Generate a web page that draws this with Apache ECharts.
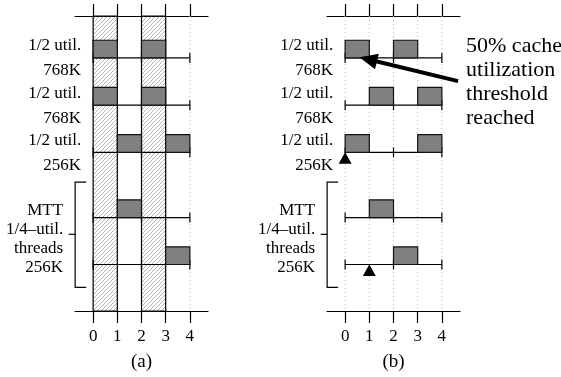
<!DOCTYPE html>
<html><head><meta charset="utf-8">
<script src="https://cdn.jsdelivr.net/npm/echarts@6/dist/echarts.min.js"></script>
<style>html,body{margin:0;padding:0;background:#fff}#c{width:561px;height:377px}</style>
</head><body><div id="c"></div>
<script>
// ---- data ----
const xTicks = [0, 1, 2, 3, 4];
const lineTicks = [0, 2, 4];
const rowY = [0.889, 1.889, 2.889, 4.27, 5.265];
const rowLabels = ['1/2 util.\n768K', '1/2 util.\n768K', '1/2 util.\n256K'];
const groupLabel = 'MTT\n1/4\u2013util.\nthreads\n256K';
const groupSpan = [3.52, 4.625, 5.75];
const hatchA = [[0, 1], [2, 3]];
const busyA = [[0,0,1],[0,2,3],[1,0,1],[1,2,3],[2,1,2],[2,3,4],[3,1,2],[4,3,4]];
const busyB = [[0,0,1],[0,2,3],[1,1,2],[1,3,4],[2,0,1],[2,3,4],[3,1,2],[4,2,3]];
const markersB = [[2,0],[4,1]];
const noteText = '50% cache\nutilization\nthreshold\nreached';
const arrowTail = [4.67, 1.38];
const arrowTip = [0.59, 0.875];
const notePos = [5.0, 1.396];
const panelNames = ['(a)', '(b)'];
const yMax = 6.25, barH = 0.375;

const FONT = '"Liberation Serif", "Times New Roman", serif';

function hatchPattern() {
  const c = document.createElement('canvas'); c.width = 4; c.height = 4;
  const g = c.getContext('2d'); g.strokeStyle = '#8c8c8c'; g.lineWidth = 0.65;
  g.beginPath();
  g.moveTo(0, 4); g.lineTo(4, 0);
  g.moveTo(-1, 1); g.lineTo(1, -1);
  g.moveTo(3, 5); g.lineTo(5, 3);
  g.stroke();
  return c;
}
const hatchFill = { image: hatchPattern(), repeat: 'repeat' };

function xAxes(gi, name) {
  return [
    { gridIndex: gi, type: 'value', min: -0.75, max: 4.75, position: 'bottom',
      name: name, nameLocation: 'middle', nameGap: 42, nameMoveOverlap: false,
      nameTextStyle: { fontFamily: FONT, fontSize: 19, color: '#000' },
      axisLine: { show: true, onZero: false, lineStyle: { color: '#000', width: 1.2 } },
      axisTick: { show: true, customValues: xTicks, length: 12, lineStyle: { color: '#000', width: 1.2 } },
      axisLabel: { show: true, customValues: xTicks, margin: 17, fontFamily: FONT, fontSize: 17, color: '#000' },
      splitLine: { show: false } },
    { gridIndex: gi, type: 'value', min: -0.75, max: 4.75, position: 'top',
      axisLine: { show: true, onZero: false, lineStyle: { color: '#000', width: 1.2 } },
      axisTick: { show: true, customValues: xTicks, length: 12, lineStyle: { color: '#000', width: 1.2 } },
      axisLabel: { show: false },
      splitLine: { show: false } }
  ];
}

function yAxis(gi) {
  return { gridIndex: gi, type: 'value', min: 0, max: yMax, inverse: true, show: false };
}

function base(gi) {
  return { type: 'custom', coordinateSystem: 'cartesian2d', xAxisIndex: gi * 2, yAxisIndex: gi, clip: false, silent: true };
}

function gridSeries(gi) {
  return Object.assign(base(gi), {
    z: 1, data: xTicks.map(v => [v]),
    renderItem: (p, api) => {
      const x = api.value(0);
      const a = api.coord([x, 0]), b = api.coord([x, yMax]);
      return { type: 'line', shape: { x1: a[0], y1: a[1], x2: b[0], y2: b[1] },
        style: { stroke: '#bbb', lineWidth: 1, lineDash: [1, 3] } };
    }
  });
}

function hatchSeries(gi, data) {
  return Object.assign(base(gi), {
    z: 2, data: data,
    renderItem: (p, api) => {
      const a = api.coord([api.value(0), 0]), b = api.coord([api.value(1), yMax]);
      return { type: 'rect', shape: { x: a[0], y: a[1], width: b[0] - a[0], height: b[1] - a[1] },
        style: { fill: hatchFill, stroke: '#000', lineWidth: 1.2 } };
    }
  });
}

function timelineSeries(gi) {
  return Object.assign(base(gi), {
    z: 3, data: rowY.map((y, i) => [i]),
    renderItem: (p, api) => {
      const y = rowY[api.value(0)];
      const a = api.coord([0, y]), b = api.coord([4, y]);
      const ch = [{ type: 'line', shape: { x1: a[0], y1: a[1], x2: b[0], y2: b[1] }, style: { stroke: '#000', lineWidth: 1.2 } }];
      lineTicks.forEach(t => {
        const c = api.coord([t, y]);
        ch.push({ type: 'line', shape: { x1: c[0], y1: c[1] - 5, x2: c[0], y2: c[1] + 5 }, style: { stroke: '#000', lineWidth: 1.2 } });
      });
      return { type: 'group', children: ch };
    }
  });
}

function busySeries(gi, data) {
  return Object.assign(base(gi), {
    z: 4, data: data,
    renderItem: (p, api) => {
      const y = rowY[api.value(0)];
      const a = api.coord([api.value(1), y - barH]), b = api.coord([api.value(2), y]);
      return { type: 'rect', shape: { x: a[0], y: a[1], width: b[0] - a[0], height: b[1] - a[1] },
        style: { fill: '#808080', stroke: '#111', lineWidth: 1.2 } };
    }
  });
}

function labelSeries(gi) {
  return Object.assign(base(gi), {
    z: 5, data: rowLabels.map((t, i) => [i]),
    renderItem: (p, api) => {
      const i = api.value(0);
      const c = api.coord([0, rowY[i]]);
      return { type: 'text', style: { text: rowLabels[i], x: c[0] - 12, y: c[1] + 0.5, align: 'right', verticalAlign: 'middle',
        fontFamily: FONT, fontSize: 17, lineHeight: 25, fill: '#000' } };
    }
  });
}

function groupSeries(gi) {
  return Object.assign(base(gi), {
    z: 5, data: [[0]],
    renderItem: (p, api) => {
      const t = api.coord([0, groupSpan[0]]), m = api.coord([0, groupSpan[1]]), b = api.coord([0, groupSpan[2]]);
      const bx = t[0] - 18;
      const st = { stroke: '#000', lineWidth: 1.2 };
      return { type: 'group', children: [
        { type: 'polyline', shape: { points: [[bx + 11, t[1]], [bx, t[1]], [bx, b[1]], [bx + 11, b[1]]] }, style: Object.assign({ fill: null }, st) },
        { type: 'line', shape: { x1: bx - 6.5, y1: m[1], x2: bx, y2: m[1] }, style: st },
        { type: 'text', style: { text: groupLabel, x: t[0] - 30, y: m[1] + 5, align: 'right', verticalAlign: 'middle',
          fontFamily: FONT, fontSize: 17, lineHeight: 19, fill: '#000' } }
      ] };
    }
  });
}

function markerSeries(gi, data) {
  return Object.assign(base(gi), {
    z: 6, data: data,
    renderItem: (p, api) => {
      const c = api.coord([api.value(1), rowY[api.value(0)]]);
      return { type: 'polygon', shape: { points: [[c[0], c[1]], [c[0] - 6.5, c[1] + 11.5], [c[0] + 6.5, c[1] + 11.5]] },
        style: { fill: '#000' } };
    }
  });
}

function noteSeries(gi) {
  return Object.assign(base(gi), {
    z: 7, data: [[0]],
    renderItem: (p, api) => {
      const a = api.coord(arrowTail), b = api.coord(arrowTip), n = api.coord(notePos);
      const dx = b[0] - a[0], dy = b[1] - a[1], L = Math.hypot(dx, dy);
      const ux = dx / L, uy = dy / L, hl = 18, hw = 8;
      const bxp = b[0] - ux * hl, byp = b[1] - uy * hl;
      return { type: 'group', children: [
        { type: 'line', shape: { x1: a[0], y1: a[1], x2: bxp + ux * 2, y2: byp + uy * 2 }, style: { stroke: '#000', lineWidth: 4 } },
        { type: 'polygon', shape: { points: [[b[0], b[1]], [bxp - uy * hw, byp + ux * hw], [bxp + uy * hw, byp - ux * hw]] }, style: { fill: '#000' } },
        { type: 'text', style: { text: noteText, x: n[0], y: n[1], align: 'left', verticalAlign: 'middle',
          fontFamily: FONT, fontSize: 22, lineHeight: 24, fill: '#000' } }
      ] };
    }
  });
}

const option = {
  animation: false,
  backgroundColor: '#fff',
  grid: [
    { left: 75, top: 16, width: 133, height: 300 },
    { left: 327, top: 16, width: 133, height: 300 }
  ],
  xAxis: [].concat(xAxes(0, panelNames[0]), xAxes(1, panelNames[1])),
  yAxis: [yAxis(0), yAxis(1)],
  series: [
    gridSeries(0), hatchSeries(0, hatchA), timelineSeries(0), busySeries(0, busyA), labelSeries(0), groupSeries(0),
    gridSeries(1), timelineSeries(1), busySeries(1, busyB), labelSeries(1), groupSeries(1), markerSeries(1, markersB), noteSeries(1)
  ]
};

const chart = echarts.init(document.getElementById('c'), null, { renderer: 'canvas' });
chart.setOption(option);
</script>
</body></html>
